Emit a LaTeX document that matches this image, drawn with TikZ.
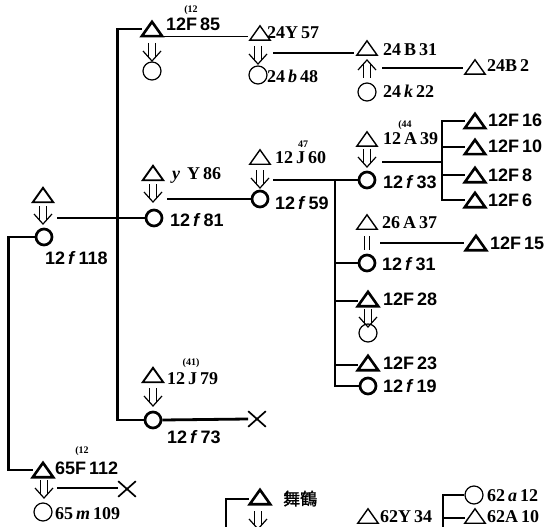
\documentclass[tikz,border=0pt]{standalone}
\usepackage{fontspec}
\setmainfont{Liberation Serif}
\newfontfamily\gsans{Liberation Sans}
\newfontfamily\cjk[FakeBold=1.5]{Noto Sans CJK JP}
\usetikzlibrary{calc,shapes.misc}
\tikzset{
 lab/.style={anchor=base west, inner sep=0, font=\fontsize{18}{18}\selectfont\bfseries},
 slab/.style={anchor=base west, inner sep=0, font=\fontsize{18}{18}\selectfont\gsans\bfseries},
 suplab/.style={inner sep=0, font=\fontsize{10}{10}\selectfont\bfseries},
 trn/.style={minimum width=20pt, minimum height=14pt, inner sep=0},
 crcb/.style={circle, draw, minimum size=16pt, inner sep=0, line width=2.7pt},
 crcn/.style={circle, draw, minimum size=18pt, inner sep=0, line width=1.2pt},
 xmark/.style={cross out, draw, minimum width=16pt, minimum height=14pt, inner sep=0, line width=1.7pt},
 thk/.style={line width=2.8pt},
 med/.style={line width=1.9pt},
 thn/.style={line width=1.3pt},
 dnarrow/.pic={\draw[line width=1.2pt] (-3.5,-9) -- (-3.5,6) (3.5,-9) -- (3.5,6);
   \draw[line width=1.2pt, line join=miter] (-9,-1) -- (0,9) -- (9,-1);},
 uparrow/.pic={\draw[line width=1.2pt] (-3.5,9) -- (-3.5,-6) (3.5,9) -- (3.5,-6);
   \draw[line width=1.2pt, line join=miter] (-9,1) -- (0,-9) -- (9,1);},
 eqbar/.pic={\draw[line width=1.2pt] (-2.5,-7) -- (-2.5,7) (2.5,-7) -- (2.5,7);},
}
\begin{document}
\begin{tikzpicture}[x=1pt,y=-1pt]
\useasboundingbox (0,0) rectangle (547,527);
% triangles
\foreach \n/\x/\y in {tR/43/195, t85/152/29, t57/260/33, t31/367/48, t2/475/67, t86/153/173,
  t60/260/157, t39/367/139, t16/475/121, t10/475/147, t8/475/175, t6/475/200, t37/367/222,
  t15/476/243, t28/368/299, t23/368/363, t79/153/375, t112/43/470, tM/260/497, t34/368/516, t10b/475/516}
  \node[trn] (\n) at (\x,\y) {};
\foreach \n in {t85,t16,t10,t8,t6,t15,t28,t23,t112,tM}
  \draw[line width=2.6pt, line join=miter] (\n.south west) -- (\n.north) -- (\n.south east) -- cycle;
\foreach \n in {tR,t86,t79}
  \draw[line width=1.9pt, line join=miter] (\n.south west) -- (\n.north) -- (\n.south east) -- cycle;
\foreach \n in {t57,t31,t2,t60,t39,t37,t34,t10b}
  \draw[line width=1.4pt, line join=miter] (\n.south west) -- (\n.north) -- (\n.south east) -- cycle;
% circles
\foreach \n/\x/\y in {cR/44/237, c81/154/218, c59/260/199, c33/367/180, c31/367/263, c19/368/386, c73/153/420}
  \node[crcb] (\n) at (\x,\y) {};
\foreach \n/\x/\y in {c85/152/71, c48/258/75, c22/367/92, c28/368/333, c109/43/512, c12/474/495}
  \node[crcn] (\n) at (\x,\y) {};
% crosses
\node[xmark] (x73) at (257,419) {};
\node[xmark] (x112) at (127,489) {};
% descent arrows
\foreach \n/\x/\y in {dR/43/215, d85/152/52, d57/258/55, d86/153/193, d60/260/179, d39/367/158,
  d28/368/318, d79/153/397, d112/44/489, dM/258/520}
  {\coordinate (\n) at (\x,\y); \pic at (\n) {dnarrow};}
\coordinate (u31) at (367,69); \pic at (u31) {uparrow};
\coordinate (e37) at (367,243); \pic at (e37) {eqbar};
% connectors
\draw[thk] (t85.west) -- ++(-24,0) |- (c73.west);
\draw[thk] ($(c81.west -| dR)+(14,0)$) -- (c81.west);
\draw[thk] (cR.west) -- ++(-26,0) |- (t112.west);
\draw[thn] ($(t85.south east)+(2,0)$) -- ($(t85.south east -| t57.south west)+(-2,0)$);
\draw[med] ($(d57)+(15,-2)$) -- ($(d57 -| t31.west)+(-3,-2)$);
\draw[med] ($(u31)+(15,-1)$) -- ($(u31 -| t2.west)+(-2,-1)$);
\draw[thk] ($(c59.west -| d86)+(14,0)$) -- (c59.west);
\draw[thk] ($(c33.west -| d60)+(13,0)$) -- (c33.west);
\coordinate (b3) at (335,180);
\draw[thk] (b3) |- (c19.west);
\draw[thk] (b3 |- c31.west) -- (c31.west);
\draw[thk] ($(b3 |- t28.west)+(0,2)$) -- ($(t28.west)+(0,2)$);
\draw[thk] ($(b3 |- t23.west)+(0,2)$) -- ($(t23.west)+(0,2)$);
\coordinate (b4) at (442,162);
\draw[thk] ($(b4 -| d39)+(15,0)$) -- (b4);
\draw[thk] (t16.west) -| (b4 |- t6.west) -- (t6.west);
\draw[thk] (b4 |- t10.west) -- (t10.west);
\draw[thk] (b4 |- t8.west) -- (t8.west);
\draw[med] ($(e37)+(13,0)$) -- ($(e37 -| t15.west)+(-2,0)$);
\draw[thk] (c73.east) -- (x73.west);
\draw[med] ($(d112)+(13,-1)$) -- ($(x112.west)+(0,-1)$);
\coordinate (bMend) at (226,535);
\draw[thk] ($(tM.west)+(-1,2)$) -| (bMend);
\coordinate (b5) at (443,535);
\draw[thk] (c12.west) -| (b5);
\draw[thk] ($(b5 |- t10b.west)+(0,2)$) -- ($(t10b.west)+(0,2)$);
% labels
\node[slab] (l85) at (166,31) {12F\,85};
\node[suplab] (s85) at (191,10) {(12};
\node[lab] (l57) at (267,39) {24Y\,57};
\node[lab] (l48) at (267,83) {24\,\textit{b}\,48};
\node[lab] (l31) at (383,56) {24\,B\,31};
\node[lab] (l2) at (487,72) {24B\,2};
\node[lab] (l22) at (383,98) {24\,\textit{k}\,22};
\node[lab] (l39) at (383,145) {12\,A\,39};
\node[suplab] (s39) at (405,125) {(44};
\node[slab] (l16) at (488,127) {12F\,16};
\node[slab] (l10) at (488,153) {12F\,10};
\node[slab] (l8) at (488,181) {12F\,8};
\node[slab] (l6) at (488,206) {12F\,6};
\node[lab] (l86) at (172,179) {\textit{y}\hspace{7pt}Y\,86};
\node[lab] (l60) at (275,164) {12\,J\,60};
\node[suplab] (s60) at (303,144) {47};
\node[slab] (l81) at (170,226) {12\,\textit{f}\,81};
\node[slab] (l59) at (275,209) {12\,\textit{f}\,59};
\node[slab] (l33) at (383,188) {12\,\textit{f}\,33};
\node[slab] (l118) at (45,264) {12\,\textit{f}\,118};
\node[lab] (l37) at (382,228) {26\,A\,37};
\node[slab] (l15) at (490,249) {12F\,15};
\node[slab] (l31b) at (382,270) {12\,\textit{f}\,31};
\node[slab] (l28) at (383,305) {12F\,28};
\node[slab] (l23) at (383,369) {12F\,23};
\node[slab] (l19) at (383,392) {12\,\textit{f}\,19};
\node[lab] (l79) at (167,384) {12\,J\,79};
\node[suplab] (s79) at (191,363) {(41)};
\node[slab] (l73) at (167,443) {12\,\textit{f}\,73};
\node[slab] (l112) at (55,474) {65F\,112};
\node[suplab] (s112) at (82,451) {(12};
\node[lab] (l109) at (55,519) {65\,\textit{m}\,109};
\node[anchor=base west, inner sep=0, font=\fontsize{17}{17}\selectfont\cjk] (lM) at (283,505) {舞鶴};
\node[lab] (l34) at (380,522) {62Y\,34};
\node[lab] (l12) at (487,501) {62\,\textit{a}\,12};
\node[lab] (l10b) at (487,522) {62A\,10};
\end{tikzpicture}
\end{document}
